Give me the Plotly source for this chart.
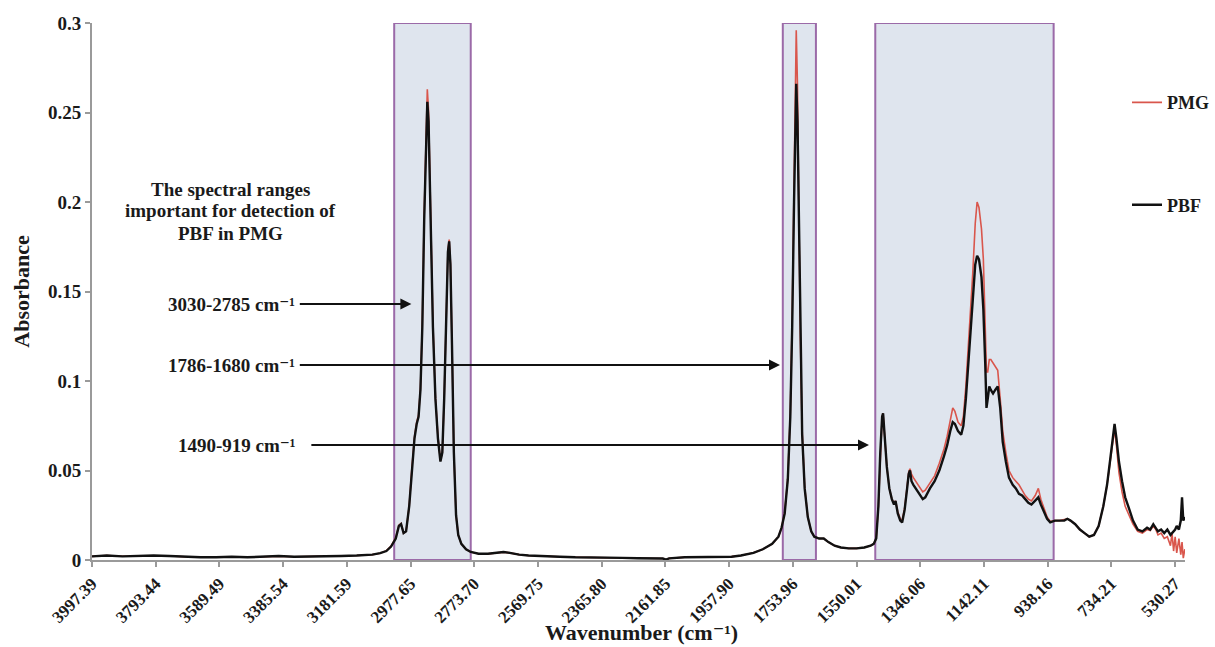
import plotly.graph_objects as go

# ---------------- data ----------------
wavenumber = [
    3997.39, 3950, 3900, 3850, 3800, 3750, 3700, 3650, 3600, 3550,
    3500, 3450, 3400, 3350, 3300, 3250, 3200, 3150, 3100, 3075,
    3055, 3040, 3025, 3015, 3008, 3000, 2992, 2982, 2974, 2965,
    2958, 2952, 2946, 2940, 2934, 2928, 2924, 2920, 2914, 2906,
    2898, 2890, 2882, 2876, 2870, 2864, 2858, 2854, 2850, 2845,
    2839, 2832, 2825, 2815, 2800, 2785, 2760, 2730, 2700, 2680,
    2660, 2630, 2600, 2550, 2500, 2450, 2400, 2350, 2300, 2250,
    2200, 2170, 2160, 2150, 2100, 2050, 2000, 1950, 1920, 1880,
    1850, 1820, 1800, 1790, 1780, 1770, 1762, 1756, 1750, 1746,
    1743, 1739, 1735, 1730, 1724, 1716, 1706, 1695, 1685, 1670,
    1655, 1640, 1620, 1600, 1575, 1550, 1525, 1505, 1495, 1487,
    1480, 1474, 1468, 1465, 1460, 1453, 1445, 1437, 1430, 1425,
    1418, 1410, 1404, 1396, 1388, 1383, 1379, 1374, 1368, 1360,
    1350, 1338, 1330, 1315, 1300, 1285, 1270, 1260, 1250, 1242,
    1235, 1225, 1215, 1208, 1200, 1192, 1185, 1178, 1170, 1164,
    1158, 1150, 1144, 1138, 1134, 1130, 1125, 1120, 1113, 1106,
    1098, 1090, 1082, 1072, 1062, 1050, 1040, 1030, 1020, 1010,
    1000, 990, 978, 968, 960, 950, 940, 930, 915, 900,
    885, 875, 865, 850, 835, 820, 805, 790, 775, 760,
    748, 738, 730, 724, 718, 710, 700, 690, 680, 665,
    650, 635, 620, 610, 600, 592, 585, 575, 565, 555,
    545, 540, 535, 530, 525, 518, 512, 508, 504, 499,
]

pbf_abs = [
    0.0020, 0.0025, 0.0020, 0.0022, 0.0025, 0.0022, 0.0018, 0.0015, 0.0015, 0.0018,
    0.0015, 0.0018, 0.0022, 0.0018, 0.0018, 0.0020, 0.0022, 0.0025, 0.0030, 0.0038,
    0.0050, 0.0075, 0.0120, 0.0190, 0.0200, 0.0150, 0.0160, 0.0300, 0.0500, 0.0680,
    0.0760, 0.0800, 0.0950, 0.1300, 0.1900, 0.2400, 0.2560, 0.2450, 0.1900, 0.1300,
    0.0900, 0.0680, 0.0550, 0.0600, 0.0900, 0.1400, 0.1720, 0.1780, 0.1650, 0.1200,
    0.0600, 0.0250, 0.0140, 0.0090, 0.0060, 0.0045, 0.0035, 0.0035, 0.0040, 0.0045,
    0.0040, 0.0030, 0.0025, 0.0020, 0.0018, 0.0015, 0.0015, 0.0012, 0.0012, 0.0010,
    0.0010, 0.0008, 0.0002, 0.0009, 0.0015, 0.0015, 0.0018, 0.0018, 0.0025, 0.0040,
    0.0060, 0.0090, 0.0130, 0.0180, 0.0260, 0.0450, 0.0800, 0.1300, 0.2000, 0.2500,
    0.2660, 0.2450, 0.1900, 0.1200, 0.0700, 0.0400, 0.0240, 0.0160, 0.0130, 0.0120,
    0.0120, 0.0100, 0.0080, 0.0070, 0.0065, 0.0065, 0.0070, 0.0080, 0.0090, 0.0120,
    0.0300, 0.0600, 0.0800, 0.0820, 0.0700, 0.0520, 0.0400, 0.0340, 0.0310, 0.0330,
    0.0260, 0.0220, 0.0210, 0.0280, 0.0400, 0.0480, 0.0500, 0.0440, 0.0420, 0.0400,
    0.0370, 0.0340, 0.0350, 0.0400, 0.0440, 0.0500, 0.0580, 0.0640, 0.0720, 0.0770,
    0.0760, 0.0720, 0.0700, 0.0750, 0.0900, 0.1100, 0.1250, 0.1450, 0.1650, 0.1700,
    0.1680, 0.1580, 0.1400, 0.1100, 0.0850, 0.0900, 0.0970, 0.0950, 0.0930, 0.0950,
    0.0970, 0.0850, 0.0660, 0.0550, 0.0460, 0.0420, 0.0400, 0.0370, 0.0360, 0.0340,
    0.0320, 0.0310, 0.0330, 0.0350, 0.0310, 0.0270, 0.0230, 0.0210, 0.0220, 0.0220,
    0.0220, 0.0230, 0.0220, 0.0200, 0.0170, 0.0150, 0.0130, 0.0140, 0.0190, 0.0300,
    0.0420, 0.0560, 0.0680, 0.0760, 0.0680, 0.0550, 0.0440, 0.0350, 0.0300, 0.0220,
    0.0170, 0.0160, 0.0180, 0.0170, 0.0200, 0.0180, 0.0160, 0.0170, 0.0150, 0.0170,
    0.0140, 0.0150, 0.0160, 0.0170, 0.0190, 0.0170, 0.0220, 0.0350, 0.0220, 0.0240,
]

pmg_abs = [
    0.0020, 0.0025, 0.0021, 0.0022, 0.0024, 0.0022, 0.0018, 0.0016, 0.0015, 0.0017,
    0.0015, 0.0018, 0.0021, 0.0018, 0.0019, 0.0020, 0.0022, 0.0025, 0.0030, 0.0038,
    0.0052, 0.0078, 0.0125, 0.0195, 0.0205, 0.0150, 0.0160, 0.0300, 0.0500, 0.0690,
    0.0770, 0.0810, 0.0960, 0.1320, 0.1930, 0.2460, 0.2630, 0.2510, 0.1940, 0.1320,
    0.0910, 0.0690, 0.0555, 0.0600, 0.0900, 0.1400, 0.1730, 0.1790, 0.1660, 0.1210,
    0.0600, 0.0250, 0.0140, 0.0090, 0.0060, 0.0045, 0.0035, 0.0034, 0.0040, 0.0044,
    0.0040, 0.0030, 0.0025, 0.0020, 0.0018, 0.0015, 0.0014, 0.0012, 0.0012, 0.0010,
    0.0010, 0.0008, 0.0002, 0.0009, 0.0015, 0.0016, 0.0018, 0.0019, 0.0025, 0.0040,
    0.0060, 0.0090, 0.0130, 0.0180, 0.0265, 0.0460, 0.0820, 0.1350, 0.2100, 0.2700,
    0.2960, 0.2650, 0.2050, 0.1250, 0.0720, 0.0410, 0.0240, 0.0160, 0.0130, 0.0120,
    0.0120, 0.0100, 0.0080, 0.0070, 0.0065, 0.0065, 0.0070, 0.0080, 0.0090, 0.0120,
    0.0300, 0.0600, 0.0800, 0.0820, 0.0700, 0.0520, 0.0400, 0.0340, 0.0320, 0.0330,
    0.0270, 0.0230, 0.0220, 0.0290, 0.0410, 0.0490, 0.0510, 0.0480, 0.0460, 0.0440,
    0.0410, 0.0380, 0.0390, 0.0430, 0.0470, 0.0540, 0.0620, 0.0690, 0.0780, 0.0850,
    0.0830, 0.0770, 0.0750, 0.0800, 0.0970, 0.1200, 0.1380, 0.1600, 0.1880, 0.2000,
    0.1970, 0.1850, 0.1680, 0.1350, 0.1050, 0.1050, 0.1120, 0.1120, 0.1100, 0.1080,
    0.1060, 0.0900, 0.0720, 0.0600, 0.0500, 0.0460, 0.0440, 0.0420, 0.0390, 0.0360,
    0.0340, 0.0330, 0.0360, 0.0400, 0.0340, 0.0290, 0.0240, 0.0215, 0.0220, 0.0220,
    0.0225, 0.0230, 0.0220, 0.0200, 0.0170, 0.0150, 0.0130, 0.0140, 0.0190, 0.0300,
    0.0420, 0.0550, 0.0660, 0.0730, 0.0640, 0.0490, 0.0380, 0.0300, 0.0260, 0.0200,
    0.0160, 0.0150, 0.0170, 0.0165, 0.0190, 0.0170, 0.0140, 0.0150, 0.0120, 0.0130,
    0.0080, 0.0150, 0.0050, 0.0130, 0.0040, 0.0120, 0.0030, 0.0100, 0.0010, 0.0060,
]

tick_vals = [3997.39, 3793.44, 3589.49, 3385.54, 3181.59, 2977.65, 2773.70, 2569.75,
             2365.80, 2161.85, 1957.90, 1753.96, 1550.01, 1346.06, 1142.11, 938.16,
             734.21, 530.27]
tick_text = ["3997.39", "3793.44", "3589.49", "3385.54", "3181.59", "2977.65", "2773.70",
             "2569.75", "2365.80", "2161.85", "1957.90", "1753.96", "1550.01", "1346.06",
             "1142.11", "938.16", "734.21", "530.27"]

y_ticks = [0, 0.05, 0.1, 0.15, 0.2, 0.25, 0.3]

ranges = [(3030, 2785), (1786, 1680), (1490, 919)]
range_labels = ["3030-2785 cm\u207b\u00b9", "1786-1680 cm\u207b\u00b9", "1490-919 cm\u207b\u00b9"]
arrow_levels = [0.1430, 0.1089, 0.0642]
arrow_tips = [2975, 1795, 1510]
label_right_edges = [3345, 3345, 3340]
arrow_gaps = [4, 4, 14]
note_lines = ["The spectral ranges", "important for detection of", "PBF in PMG"]
x_title = "Wavenumber (cm\u207b\u00b9)"
y_title = "Absorbance"

assert len(wavenumber) == len(pbf_abs) == len(pmg_abs)

FONT = "Liberation Serif, Times New Roman, DejaVu Serif, serif"
TXT = "#1a1a1a"
AXC = "#9a9a9a"

# plot-area geometry in pixels (used only to place free text in paper coordinates)
PL, PR, PT, PB = 92, 1185, 23, 560


def paper_x(px):
    return (px - PL) / (PR - PL)


def paper_y(py):
    return (PB - py) / (PB - PT)


fig = go.Figure()

fig.add_trace(go.Scatter(
    x=wavenumber, y=pmg_abs, mode="lines", name="PMG",
    line=dict(color="#d9564c", width=1.6), legendgroup="a",
))
fig.add_trace(go.Scatter(
    x=wavenumber, y=pbf_abs, mode="lines", name="PBF",
    line=dict(color="#111111", width=2.4), legendgroup="b",
))

for x0, x1 in ranges:
    fig.add_shape(type="rect", xref="x", yref="y", x0=x0, x1=x1, y0=0, y1=0.3,
                  fillcolor="#dfe5ee", line=dict(color="#9b6aa8", width=2), layer="below")

for lab, lev, tip, tail, gap in zip(range_labels, arrow_levels, arrow_tips,
                                    label_right_edges, arrow_gaps):
    fig.add_annotation(x=tip, y=lev, ax=tail, ay=lev, xref="x", yref="y", axref="x", ayref="y",
                       text="<b>" + lab + "</b>", xanchor="right", yanchor="middle",
                       showarrow=True, arrowhead=2, arrowsize=1.1, arrowwidth=2,
                       arrowcolor="#111111", startstandoff=gap, borderpad=0,
                       font=dict(family=FONT, size=19, color=TXT))

for line_txt, py in zip(note_lines, [190, 211, 233]):
    fig.add_annotation(x=paper_x(230), y=paper_y(py), xref="paper", yref="paper",
                       text="<b>" + line_txt + "</b>", showarrow=False,
                       xanchor="center", yanchor="middle",
                       font=dict(family=FONT, size=19, color=TXT))

# x-axis title placed as free text so it sits exactly as in the reference
fig.add_annotation(x=paper_x(641), y=paper_y(646), xref="paper", yref="paper",
                   text="<b>" + x_title + "</b>", showarrow=False,
                   xanchor="center", yanchor="bottom", borderpad=0,
                   font=dict(family=FONT, size=22, color=TXT))

fig.update_layout(
    width=1215, height=647,
    margin=dict(l=PL, r=1215 - PR, t=PT, b=647 - PB, autoexpand=False),
    paper_bgcolor="white", plot_bgcolor="white",
    font=dict(family=FONT, color=TXT),
    showlegend=True,
    legend=dict(x=paper_x(1127), y=0.886, xanchor="left", yanchor="top",
                traceorder="grouped", tracegroupgap=76,
                font=dict(family=FONT, size=18, color=TXT, weight="bold"),
                bgcolor="rgba(0,0,0,0)", itemwidth=30),
    xaxis=dict(range=[3997.39, 498.5], tickmode="array", tickvals=tick_vals, ticktext=tick_text,
               tickangle=-45, ticks="outside", ticklen=5, tickcolor=AXC, tickwidth=1.5,
               ticklabelstandoff=0,
               showline=True, linecolor=AXC, linewidth=2, showgrid=False, zeroline=False,
               tickfont=dict(family=FONT, size=17, color=TXT, weight="bold"),
               automargin=False),
    yaxis=dict(range=[0, 0.3], tickmode="array", tickvals=y_ticks,
               ticks="outside", ticklen=5, tickcolor=AXC, tickwidth=1.5,
               showline=True, linecolor=AXC, linewidth=2, showgrid=False, zeroline=False,
               tickfont=dict(family=FONT, size=19, color=TXT, weight="bold"),
               title=dict(text="<b>" + y_title + "</b>", standoff=12,
                          font=dict(family=FONT, size=22, color=TXT)),
               automargin=False),
)

fig.write_html("out.html")
